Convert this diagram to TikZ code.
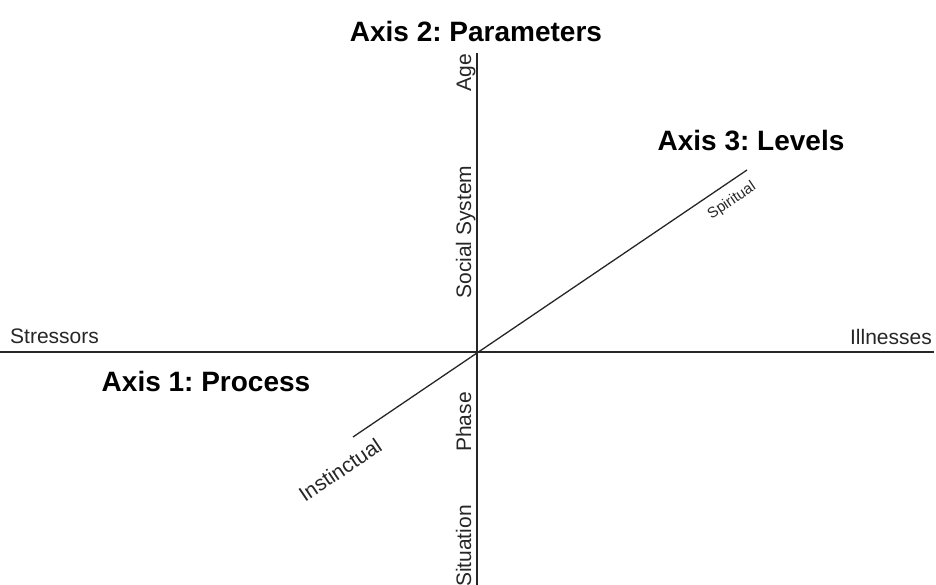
\documentclass[tikz,border=0pt]{standalone}
\usepackage{fontspec}
\setmainfont{Liberation Sans}
\frenchspacing
\begin{document}
\begin{tikzpicture}[x=1pt,y=-1pt,
  axisline/.style={line width=1.3pt,draw=black!85},
  title/.style={font=\fontsize{28}{30}\selectfont\bfseries,text=black,inner sep=0pt},
  lab/.style={font=\fontsize{21}{24}\selectfont,text=black!85,inner sep=0pt},
  vlab/.style={lab,rotate=90,anchor=base},
  small/.style={font=\fontsize{15}{17}\selectfont,text=black!85,inner sep=0pt,rotate=34}]
\useasboundingbox (0,0) rectangle (936,585);
\coordinate (O) at (477,352);
\coordinate (hL) at (0,352);
\coordinate (hR) at (934,352);
\coordinate (vT) at (477,53);
\coordinate (vB) at (477,585);
\coordinate (dT) at (747,170);
\coordinate (dB) at (353,437);
\draw[axisline] (hL) -- (hR);
\draw[axisline] (vT) -- (vB);
\draw[axisline] (dB) -- (dT);
\node[title] (t2) at (476,31) {Axis 2: Parameters};
\node[title] (t3) at (751,141) {Axis 3: Levels};
\node[title] (t1) at (206,381) {Axis 1: Process};
\node[lab,anchor=base west] (str) at (10,343) {Stressors};
\node[lab,anchor=base east] (ill) at (932,344) {Illnesses};
\node[vlab] (age) at (471,73) {Age};
\node[vlab] (soc) at (471,232) {Social System};
\node[vlab] (pha) at (471,422) {Phase};
\node[vlab] (sit) at (471,546) {Situation};
\node[small] (spi) at (732,201) {Spiritual};
\node[lab,rotate=34] (ins) at (340,470) {Instinctual};
\end{tikzpicture}
\end{document}
